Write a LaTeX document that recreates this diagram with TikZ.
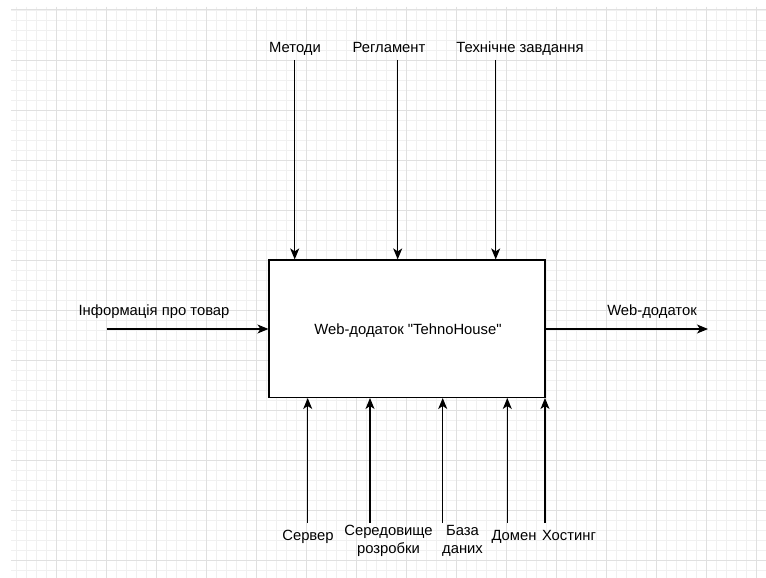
\documentclass[tikz,border=0pt]{standalone}
\usepackage{fontspec}
\setmainfont{Liberation Sans}
\usetikzlibrary{arrows.meta}
\begin{document}
\begin{tikzpicture}[x=1pt,y=-1pt,
  lbl/.style={inner sep=0pt,anchor=base,font=\fontsize{14.8}{18}\selectfont},
  lbl2/.style={inner sep=0pt,align=center,font=\fontsize{14.8}{18}\selectfont},
  flow/.style={draw=black,line width=1.1pt,-{Stealth[length=11pt,width=9pt,inset=3pt]}},
  minorline/.style={draw=black!6,line width=0.8pt},
  majorline/.style={draw=black!12,line width=1pt},
  procbox/.style={draw=black,line width=1.1pt,fill=white,minimum width=276pt,minimum height=137.5pt,inner sep=0pt}]
\useasboundingbox (0,0) rectangle (766,578);
\fill[white] (0,0) rectangle (766,578);
% grid
\foreach \i in {0,...,75} {\draw[minorline] (16.7+10*\i,7) -- (16.7+10*\i,578);}
\foreach \j in {0,...,56} {\draw[minorline] (11,10+10*\j) -- (766,10+10*\j);}
\foreach \i in {0,...,14} {\draw[majorline] (56.7+50*\i,7) -- (56.7+50*\i,578);}
\foreach \j in {0,...,11} {\draw[majorline] (11,10+50.06*\j) -- (766,10+50.06*\j);}
% main box
\node[procbox] (box) at (407,328.7) {};
\node[lbl] (title) at (408,334) {Web-додаток \textquotedbl TehnoHouse\textquotedbl};
% top controls
\node[lbl] (lm) at (295,53) {Методи};
\node[lbl] (lr) at (389,53) {Регламент};
\node[lbl] (lt) at (520,53) {Технічне завдання};
\coordinate (cm) at (294.7,60);
\coordinate (cr) at (397.7,60);
\coordinate (ct) at (495.7,60);
\draw[flow] (cm) -- (cm |- box.north);
\draw[flow] (cr) -- (cr |- box.north);
\draw[flow] (ct) -- (ct |- box.north);
% input
\node[lbl] (li) at (154,315) {Інформація про товар};
\coordinate (ci) at (106.7,329);
\draw[flow] (ci) -- (ci -| box.west);
% output
\node[lbl] (lo) at (652,315) {Web-додаток};
\coordinate (co) at (708,329);
\draw[flow] (co -| box.east) -- (co);
% mechanisms
\node[lbl] (ls) at (308,540.7) {Сервер};
\node[lbl2] (le) at (388.5,541) {Середовище\\розробки};
\node[lbl2] (ld) at (462.5,541) {База\\даних};
\node[lbl] (lp) at (514,540.7) {Домен};
\node[lbl] (lh) at (569,540.7) {Хостинг};
\coordinate (ms) at (307.7,523);
\coordinate (me) at (370,523);
\coordinate (md) at (442.7,523);
\coordinate (mp) at (507.3,523);
\coordinate (mh) at (545,523);
\draw[flow] (ms) -- (ms |- box.south);
\draw[flow] (me) -- (me |- box.south);
\draw[flow] (md) -- (md |- box.south);
\draw[flow] (mp) -- (mp |- box.south);
\draw[flow] (mh) -- (mh |- box.south);
\end{tikzpicture}
\end{document}
